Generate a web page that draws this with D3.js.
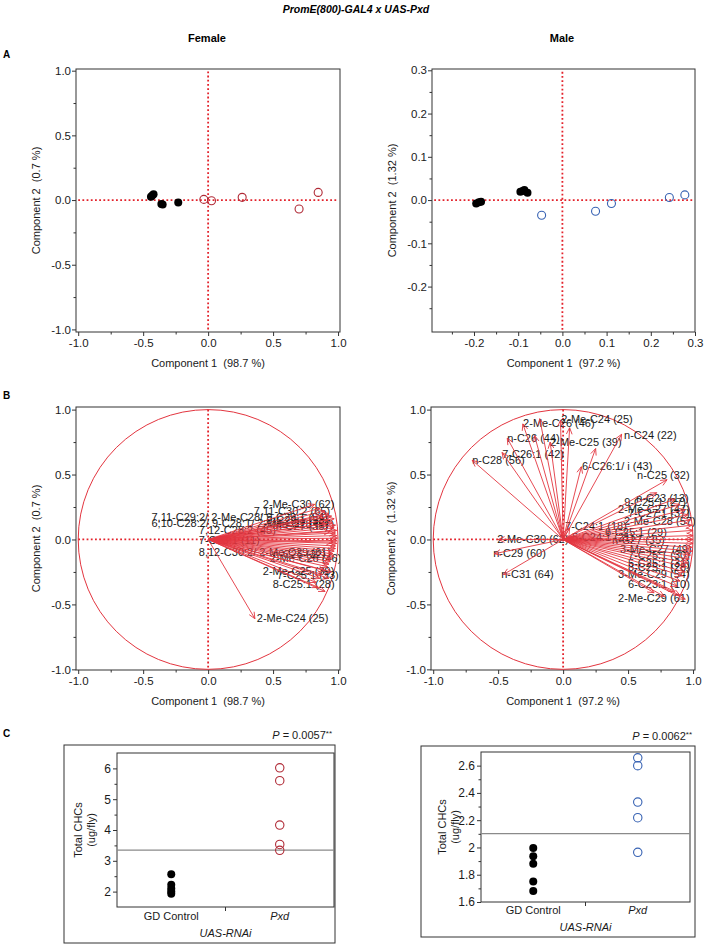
<!DOCTYPE html>
<html><head><meta charset="utf-8">
<script src="https://cdn.jsdelivr.net/npm/d3@7"></script>
<style>
body{margin:0;background:#fff}
svg{display:block}
text{font-family:"Liberation Sans",Arial,sans-serif;white-space:pre}
</style>
</head><body>
<svg id="c" width="704" height="945"></svg>
<script>
// ---------------- DATA ----------------
const title = "PromE(800)-GAL4 x UAS-Pxd";
const sexes = ["Female", "Male"];
const pc1Pct = ["98.7", "97.2"];
const pc2Pct = ["0.7", "1.32"];

// Panel A: PCA scores
const femaleCtrlX = [-0.44, -0.43, -0.42, -0.36, -0.35, -0.23];
const femaleCtrlY = [0.025, 0.035, 0.045, -0.03, -0.035, -0.018];
const femalePxdX = [-0.033, 0.026, 0.262, 0.70, 0.847];
const femalePxdY = [0.005, -0.005, 0.021, -0.069, 0.059];
const maleCtrlX = [-0.195, -0.189, -0.184, -0.095, -0.09, -0.086, -0.079];
const maleCtrlY = [-0.008, -0.005, -0.004, 0.019, 0.021, 0.023, 0.017];
const malePxdX = [-0.047, 0.075, 0.111, 0.242, 0.277];
const malePxdY = [-0.035, -0.026, -0.008, 0.006, 0.012];

// Tick values
const femaleATicks = [-1.0, -0.5, 0.0, 0.5, 1.0];
const femaleAMinor = [-0.75, -0.25, 0.25, 0.75];
const maleAXTicks = [-0.2, -0.1, 0.0, 0.1, 0.2, 0.3];
const maleAYTicks = [-0.2, -0.1, 0.0, 0.1, 0.2, 0.3];
const maleAMinor = [-0.25, -0.15, -0.05, 0.05, 0.15, 0.25];

// Panel B: loadings (arrow tips, component 1 / component 2)
const femaleLoadX = [0.82, 0.86, 0.90, 0.93, 0.95, 0.97, 0.88, 0.92, 0.96, 0.98, 0.97, 0.99, 0.98, 0.99, 0.995, 0.99, 0.99, 0.98, 0.98, 0.97, 0.96, 0.97, 0.95, 0.94, 0.93, 0.92, 0.90, 0.88, 0.86, 0.83, 0.85, 0.90, 0.93, 0.95, 0.36, 0.91, 0.94, 0.96];
const femaleLoadY = [0.27, 0.24, 0.22, 0.20, 0.18, 0.16, 0.18, 0.15, 0.13, 0.11, 0.09, 0.07, 0.05, 0.03, 0.01, -0.01, -0.03, -0.05, -0.07, -0.09, -0.11, -0.13, -0.15, -0.17, -0.19, -0.21, -0.24, -0.27, -0.30, -0.33, -0.37, -0.40, -0.30, -0.25, -0.61, 0.12, 0.06, -0.02];
const femaleLabels = ["2-Me-C30 (62)", "7,11-C30:2 (65)", "7,11-C29:2/ 2-Me-C28/ 9-C29:1 (54)", "6;10-C28:2/ 9-C28:1/ 2-Me-C27 (47)", "7,12-C28:2 (45)", "7-C23:1 (11)", "8,12-C30:2/ 2-Me-C29 (61)", "2-Me-C26 (46)", "2-Me-C25 (39)", "7-C25:1 (33)", "8-C25:1 (28)", "2-Me-C24 (25)", "9-C29:1 (53)", "n-C27 (35)", "2-Me-C28 (57)", "n-C25 (32)"];
const femaleLabelX = [0.421, 0.352, -0.436, -0.436, -0.072, -0.072, -0.072, 0.475, 0.421, 0.53, 0.498, 0.375, 0.45, 0.52, 0.42, 0.50];
const femaleLabelY = [0.273, 0.219, 0.175, 0.126, 0.072, -0.005, -0.096, -0.144, -0.242, -0.272, -0.345, -0.608, 0.15, 0.10, 0.12, -0.11];

const maleLoadX = [-0.02, -0.31, -0.43, -0.10, 0.45, -0.47, -0.70, 0.14, 0.80, -0.50, -0.53, -0.46, -0.18, 0.05, 0.25, -0.22, 0.72, 0.86, 0.90, 0.94, 0.96, 0.98, 0.99, 1.0, 1.0, 1.0, 1.0, 0.99, 0.99, 0.98, 0.97, 0.96, 0.95, 0.94, 0.92, 0.90, 0.88, 0.86, 0.90, 0.94, 0.78, 0.70, 0.08, 0.05];
const maleLoadY = [0.92, 0.89, 0.78, 0.75, 0.81, 0.67, 0.61, 0.56, 0.46, 0.0, -0.11, -0.27, 0.93, 0.86, 0.70, 0.80, 0.36, 0.31, 0.27, 0.23, 0.19, 0.15, 0.11, 0.07, 0.03, 0.0, -0.03, -0.06, -0.09, -0.12, -0.15, -0.18, -0.21, -0.25, -0.28, -0.32, -0.36, -0.40, -0.43, -0.46, -0.44, -0.41, 0.02, 0.09];
const maleLabels = ["2-Me-C24 (25)", "2-Me-C26 (46)", "n-C26 (44)", "2-Me-C25 (39)", "n-C24 (22)", "7-C26:1 (42)", "n-C28 (56)", "6-C26:1/ i (43)", "n-C25 (32)", "n-C23 (13)", "9-C25:1 (27)", "2-Me-C27 (47)", "7-C27:1 (37)", "2-Me-C28 (57)", "7-C24:1 (18)", "6-C25:1 (29)", "5-C24:1 (21)", "2-Me-C30 (62)", "n-C29 (60)", "n-C31 (64)", "n-C27 (35)", "3-Me-C27 (49)", "7-C25:1 (30)", "5-C25:1 (31)", "8-C25:1 (28)", "3-Me-C29 (54)", "6-C23:1 (10)", "2-Me-C29 (61)"];
const maleLabelX = [-0.015, -0.308, -0.431, -0.10, 0.469, -0.469, -0.70, 0.146, 0.569, 0.562, 0.47, 0.423, 0.50, 0.469, 0.015, 0.323, 0.069, -0.508, -0.538, -0.477, 0.377, 0.438, 0.50, 0.50, 0.50, 0.423, 0.50, 0.423];
const maleLabelY = [0.927, 0.896, 0.780, 0.749, 0.803, 0.656, 0.610, 0.564, 0.494, 0.317, 0.290, 0.232, 0.201, 0.139, 0.100, 0.054, 0.015, 0.0, -0.108, -0.270, -0.008, -0.077, -0.124, -0.185, -0.215, -0.270, -0.347, -0.448];
const biTicks = [-1.0, -0.5, 0.0, 0.5, 1.0];
const biMinor = [-0.75, -0.25, 0.25, 0.75];

// Panel C: total CHCs
const groups = ["GD Control", "Pxd"];
const femaleCtrlCHC = [2.56, 2.22, 2.10, 2.00, 1.93];
const femalePxdCHC = [6.02, 5.60, 4.16, 3.53, 3.34];
const maleCtrlCHC = [1.996, 1.935, 1.88, 1.75, 1.68];
const malePxdCHC = [2.657, 2.60, 2.333, 2.218, 1.964];
const femaleCTicks = [2, 3, 4, 5, 6];
const femaleCMinor = [2.5, 3.5, 4.5, 5.5];
const maleCTicks = [1.6, 1.8, 2.0, 2.2, 2.4, 2.6];
const maleCMinor = [1.7, 1.9, 2.1, 2.3, 2.5];
const pValues = ["0.0057", "0.0062"];

// ---------------- DRAW ----------------
const svg = d3.select("#c");
const DOT = "#e3222b", PINK = "#e3353f", DARKRED = "#b02a36", BLUE = "#3762b3", INK = "#1a1a1a";
const fmt1 = v => d3.format(".1f")(v).replace("\u2212", "-");

svg.append("text").attr("x", 356).attr("y", 13).attr("text-anchor", "middle")
  .attr("font-size", 10.5).attr("font-weight", "bold").attr("font-style", "italic").text(title);
svg.append("text").attr("x", 207).attr("y", 42).attr("text-anchor", "middle").attr("font-size", 11).attr("font-weight", "bold").text(sexes[0]);
svg.append("text").attr("x", 562).attr("y", 42).attr("text-anchor", "middle").attr("font-size", 11).attr("font-weight", "bold").text(sexes[1]);
[["A", 58], ["B", 399], ["C", 737]].forEach(([t, y]) =>
  svg.append("text").attr("x", 3).attr("y", y).attr("font-size", 10).attr("font-weight", "bold").text(t));

function styleAxis(sel) {
  sel.select(".domain").remove();
  sel.selectAll("line").attr("stroke", "#333");
  sel.selectAll("text").attr("font-size", 11.5).attr("fill", INK)
    .attr("font-family", "'Liberation Sans', Arial, sans-serif");
}

let clipN = 0;
function frameAxes(x, y, xMaj, xMin, yMaj, yMin, sexIdx) {
  const g = svg.append("g");
  const [x0, x1] = x.range(), [y0, y1] = y.range();
  const xa = g.append("g").attr("transform", `translate(0,${y0})`)
    .call(d3.axisBottom(x).tickValues(xMaj).tickSize(4).tickPadding(3).tickFormat(fmt1));
  styleAxis(xa);
  const xm = g.append("g").attr("transform", `translate(0,${y0})`)
    .call(d3.axisBottom(x).tickValues(xMin).tickSize(2.5).tickFormat(""));
  styleAxis(xm);
  const ya = g.append("g").attr("transform", `translate(${x0},0)`)
    .call(d3.axisLeft(y).tickValues(yMaj).tickSize(4).tickPadding(1).tickFormat(fmt1));
  styleAxis(ya);
  const ym = g.append("g").attr("transform", `translate(${x0},0)`)
    .call(d3.axisLeft(y).tickValues(yMin).tickSize(2.5).tickFormat(""));
  styleAxis(ym);
  g.append("rect").attr("x", x0).attr("y", y1).attr("width", x1 - x0).attr("height", y0 - y1)
    .attr("fill", "none").attr("stroke", "#333").attr("stroke-width", 1);
  g.append("text").attr("x", (x0 + x1) / 2).attr("y", y0 + 35).attr("text-anchor", "middle")
    .attr("font-size", 11).attr("fill", INK).text(`Component 1  (${pc1Pct[sexIdx]} %)`);
  g.append("text").attr("transform", `translate(${x0 - 36},${(y0 + y1) / 2}) rotate(-90)`)
    .attr("text-anchor", "middle").attr("font-size", 11).attr("fill", INK)
    .text(`Component 2  (${pc2Pct[sexIdx]} %)`);
  const id = "clip" + (clipN++);
  svg.append("clipPath").attr("id", id).append("rect")
    .attr("x", x0).attr("y", y1).attr("width", x1 - x0).attr("height", y0 - y1);
  const inner = g.append("g").attr("clip-path", `url(#${id})`);
  return inner;
}

function dotted(g, x1, y1, x2, y2) {
  g.append("line").attr("x1", x1).attr("y1", y1).attr("x2", x2).attr("y2", y2)
    .attr("stroke", DOT).attr("stroke-width", 1.8).attr("stroke-dasharray", "1.8,2.4");
}

// ---- Panel A ----
function panelA(x, y, xMaj, xMin, yMaj, yMin, sexIdx, cx, cy, px, py, openColor, lineExt) {
  const g = frameAxes(x, y, xMaj, xMin, yMaj, yMin, sexIdx);
  dotted(g, x(lineExt[0]), y(0), x(lineExt[1]), y(0));
  dotted(g, x(0), y(lineExt[2]), x(0), y(lineExt[3]));
  g.selectAll(".o").data(d3.zip(px, py)).join("circle")
    .attr("cx", d => x(d[0])).attr("cy", d => y(d[1])).attr("r", 4)
    .attr("fill", "none").attr("stroke", openColor).attr("stroke-width", 1.1);
  g.selectAll(".f").data(d3.zip(cx, cy)).join("circle")
    .attr("cx", d => x(d[0])).attr("cy", d => y(d[1])).attr("r", 4).attr("fill", "#000");
}

const xAF = d3.scaleLinear().domain([-1.017, 1.015]).range([76, 340]);
const yAF = d3.scaleLinear().domain([-1.02, 1.013]).range([332, 69]);
panelA(xAF, yAF, femaleATicks, femaleAMinor, femaleATicks, femaleAMinor, 0,
  femaleCtrlX, femaleCtrlY, femalePxdX, femalePxdY, DARKRED, [-1, 1, -1, 1]);

const xAM = d3.scaleLinear().domain([-0.295, 0.3]).range([432, 695]);
const yAM = d3.scaleLinear().domain([-0.305, 0.303]).range([332, 69]);
panelA(xAM, yAM, maleAXTicks, maleAMinor, maleAYTicks, maleAMinor, 1,
  maleCtrlX, maleCtrlY, malePxdX, malePxdY, BLUE, [-0.29, 0.295, -0.3, 0.298]);

// ---- Panel B ----
function panelB(x, y, sexIdx, lx, ly, labels, labX, labY) {
  const g = frameAxes(x, y, biTicks, biMinor, biTicks, biMinor, sexIdx);
  const cxp = x(0), cyp = y(0);
  g.append("ellipse").attr("cx", cxp).attr("cy", cyp)
    .attr("rx", x(1) - x(0)).attr("ry", y(0) - y(1))
    .attr("fill", "none").attr("stroke", PINK).attr("stroke-width", 1);
  dotted(g, x(-1), cyp, x(1), cyp);
  dotted(g, cxp, y(1), cxp, y(-1));
  const lg = g.append("g");
  lg.selectAll("text").data(d3.zip(labels, labX, labY)).join("text")
    .attr("x", d => x(d[1])).attr("y", d => y(d[2])).attr("dy", "0.35em")
    .attr("font-size", 11).attr("fill", INK).text(d => d[0]);
  const ag = g.append("g").attr("stroke", PINK).attr("stroke-width", 0.9).attr("fill", "none");
  d3.zip(lx, ly).forEach(([tx, ty]) => {
    const X1 = x(tx), Y1 = y(ty);
    ag.append("line").attr("x1", cxp).attr("y1", cyp).attr("x2", X1).attr("y2", Y1);
    const a = Math.atan2(Y1 - cyp, X1 - cxp), L = 7, s = 0.42;
    ag.append("path").attr("d",
      `M${X1 - L * Math.cos(a - s)},${Y1 - L * Math.sin(a - s)}L${X1},${Y1}L${X1 - L * Math.cos(a + s)},${Y1 - L * Math.sin(a + s)}`);
  });
}

const yB = d3.scaleLinear().domain([-1.005, 1.02]).range([670, 407]);
const xBF = d3.scaleLinear().domain([-1.017, 1.015]).range([76, 340]);
const xBM = d3.scaleLinear().domain([-1.017, 1.015]).range([431, 695]);
panelB(xBF, yB, 0, femaleLoadX, femaleLoadY, femaleLabels, femaleLabelX, femaleLabelY);
panelB(xBM, yB, 1, maleLoadX, maleLoadY, maleLabels, maleLabelX, maleLabelY);

// ---- Panel C ----
function panelC(box, plot, dom, ticks, minor, tickFmt, ctrl, pxd, openColor, pIdx, labY) {
  const g = svg.append("g");
  g.append("rect").attr("x", box[0]).attr("y", box[1]).attr("width", box[2] - box[0]).attr("height", box[3] - box[1])
    .attr("fill", "none").attr("stroke", "#333").attr("stroke-width", 1);
  const x = d3.scalePoint().domain(groups).range([plot[0], plot[2]]).padding(0.5);
  const y = d3.scaleLinear().domain(dom).range([plot[3], plot[1]]);
  const ya = g.append("g").attr("transform", `translate(${plot[0]},0)`)
    .call(d3.axisLeft(y).tickValues(ticks).tickSize(4).tickPadding(2).tickFormat(tickFmt));
  styleAxis(ya);
  ya.selectAll("text").attr("font-size", 12);
  const ym = g.append("g").attr("transform", `translate(${plot[0]},0)`)
    .call(d3.axisLeft(y).tickValues(minor).tickSize(2.5).tickFormat(""));
  styleAxis(ym);
  g.append("rect").attr("x", plot[0]).attr("y", plot[1]).attr("width", plot[2] - plot[0]).attr("height", plot[3] - plot[1])
    .attr("fill", "none").attr("stroke", "#333").attr("stroke-width", 1);
  const mid = (x(groups[0]) + x(groups[1])) / 2;
  g.append("line").attr("x1", mid).attr("x2", mid).attr("y1", plot[3]).attr("y2", plot[3] + 4).attr("stroke", "#333");
  const mean = d3.mean(ctrl.concat(pxd));
  g.append("line").attr("x1", plot[0]).attr("x2", plot[2]).attr("y1", y(mean)).attr("y2", y(mean))
    .attr("stroke", "#8a8a8a").attr("stroke-width", 1.2);
  g.selectAll(".p").data(pxd).join("circle").attr("cx", x(groups[1])).attr("cy", d => y(d)).attr("r", 4.2)
    .attr("fill", "none").attr("stroke", openColor).attr("stroke-width", 1.1);
  g.selectAll(".c").data(ctrl).join("circle").attr("cx", x(groups[0])).attr("cy", d => y(d)).attr("r", 4).attr("fill", "#000");
  g.append("text").attr("x", x(groups[0])).attr("y", labY).attr("text-anchor", "middle").attr("font-size", 11).attr("fill", INK).text(groups[0]);
  g.append("text").attr("x", x(groups[1])).attr("y", labY).attr("text-anchor", "middle").attr("font-size", 11).attr("font-style", "italic").attr("fill", INK).text(groups[1]);
  g.append("text").attr("x", mid).attr("y", labY + 17).attr("text-anchor", "middle").attr("font-size", 11).attr("font-style", "italic").attr("fill", INK).text("UAS-RNAi");
  const yc = (plot[1] + plot[3]) / 2;
  g.append("text").attr("transform", `translate(${plot[0] - 35},${yc}) rotate(-90)`).attr("text-anchor", "middle")
    .attr("font-size", 11).attr("fill", INK).text("Total CHCs");
  g.append("text").attr("transform", `translate(${plot[0] - 22},${yc}) rotate(-90)`).attr("text-anchor", "middle")
    .attr("font-size", 11).attr("fill", INK).text("(ug/fly)");
  const pt = g.append("text").attr("x", box[2] - 3).attr("y", box[1] - 6).attr("text-anchor", "end").attr("font-size", 11).attr("fill", INK);
  pt.append("tspan").attr("font-style", "italic").text("P");
  pt.append("tspan").text(" = " + pValues[pIdx]);
  pt.append("tspan").attr("font-size", 8).attr("dy", -3).text("**");
}

panelC([64, 745, 335, 943], [117, 753, 334, 907], [1.5, 6.5], femaleCTicks, femaleCMinor, d3.format("d"),
  femaleCtrlCHC, femalePxdCHC, DARKRED, 0, 920);
panelC([421, 746, 695, 937], [481, 752, 690, 902], [1.6, 2.7], maleCTicks, maleCMinor, v => String(Math.round(v * 10) / 10),
  maleCtrlCHC, malePxdCHC, BLUE, 1, 914);
</script>
</body></html>
